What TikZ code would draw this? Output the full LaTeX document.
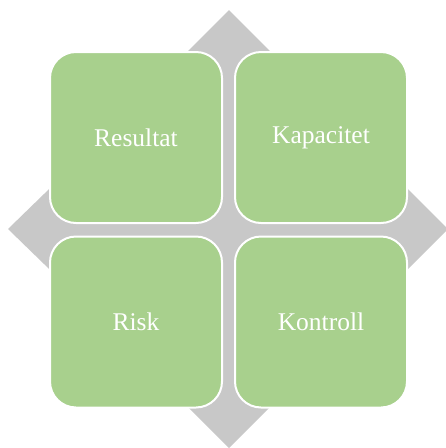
\documentclass[tikz,border=0pt]{standalone}
\usepackage{fontspec}
\setmainfont{Liberation Serif}
\definecolor{arrowgray}{HTML}{C8C8C8}
\definecolor{boxgreen}{HTML}{A8D08D}
\tikzset{
  quadbox/.style={draw=white, line width=2pt, fill=boxgreen, rounded corners=26pt,
    minimum width=172pt, minimum height=171pt, inner sep=0pt, text=white,
    font=\fontsize{25.5}{30}\selectfont},
  crossarrow/.style={fill=arrowgray, draw=none}
}
\begin{document}
\begin{tikzpicture}[x=1pt,y=-1pt]
\useasboundingbox (0,0) rectangle (446,448);
% four-way arrow
\coordinate (c) at (229,229);
\fill[crossarrow]
  (229,10) -- (299,80) -- (259,80) -- (259,199) -- (378,199) -- (378,159) -- (448,229)
  -- (378,299) -- (378,259) -- (259,259) -- (259,378) -- (299,378) -- (229,448)
  -- (159,378) -- (199,378) -- (199,259) -- (80,259) -- (80,299) -- (8,229)
  -- (80,159) -- (80,199) -- (199,199) -- (199,80) -- (159,80) -- cycle;
% boxes
\node[quadbox] (res) at (136,137.5) {Resultat};
\node[quadbox] (kap) at (321,137.5) {Kapacitet};
\node[quadbox] (risk) at (136,322) {Risk};
\node[quadbox] (kon) at (321,322) {Kontroll};
\end{tikzpicture}
\end{document}
